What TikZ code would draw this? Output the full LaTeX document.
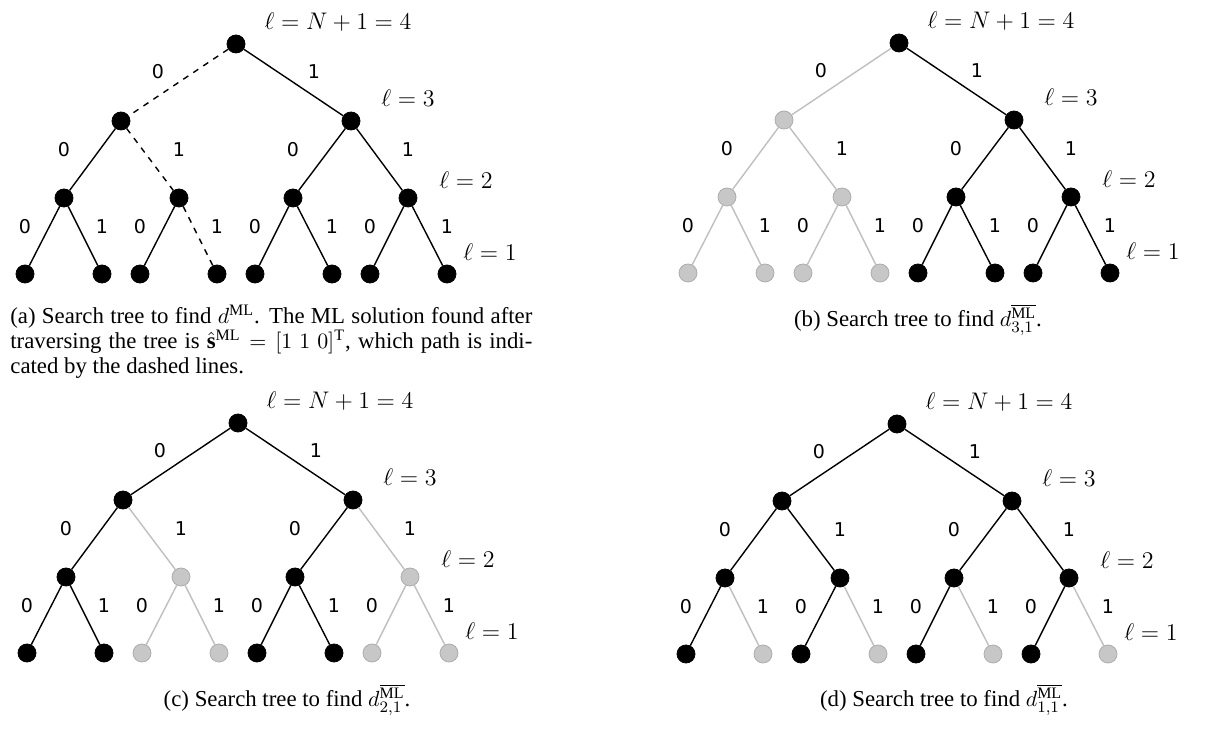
\documentclass[tikz,border=0pt]{standalone}
\usepackage{fontspec}
\setmainfont{Liberation Serif}
\newfontfamily\lblfont{DejaVu Sans}
\begin{document}
\begin{tikzpicture}[x=0.5pt,y=-0.5pt,
  nd/.style={circle,fill=black,draw=black,minimum size=9pt,inner sep=0pt},
  gnd/.style={fill=black!22,draw=black!32},
  ed/.style={line width=0.7pt},
  ge/.style={draw=black!25},
  de/.style={dashed},
  lbl/.style={font=\lblfont\fontsize{9.5}{11}\selectfont},
  ell/.style={font=\fontsize{12}{14}\selectfont},
  captxt/.style={font=\fontsize{11.4}{12.5}\selectfont}]
\useasboundingbox (0,0) rectangle (1206,731);
\newcommand\mytree[3]{%
 \node[nd,#1r/.try] (#1r) at (#2,#3) {};
 \node[nd,#1a/.try] (#1a) at ({#2-115},{#3+77}) {};
 \node[nd,#1b/.try] (#1b) at ({#2+115},{#3+77}) {};
 \node[nd,#1aa/.try] (#1aa) at ({#2-172},{#3+154}) {};
 \node[nd,#1ab/.try] (#1ab) at ({#2-57},{#3+154}) {};
 \node[nd,#1ba/.try] (#1ba) at ({#2+57},{#3+154}) {};
 \node[nd,#1bb/.try] (#1bb) at ({#2+172},{#3+154}) {};
 \foreach \n/\dx in {aaa/-211,aab/-134,aba/-96,abb/-19,baa/19,bab/96,bba/134,bbb/211}{
   \node[nd,#1\n/.try] (#1\n) at ({#2+\dx},{#3+230}) {};}
 \foreach \p/\c in {r/a,r/b,a/aa,a/ab,b/ba,b/bb,aa/aaa,aa/aab,ab/aba,ab/abb,ba/baa,ba/bab,bb/bba,bb/bbb}{
   \draw[ed,#1e\c/.try] (#1\p) -- (#1\c);}
 \node[lbl] at ({#2-78},{#3+28}) {0};
 \node[lbl] at ({#2+78},{#3+28}) {1};
 \foreach \dx/\t in {-172/0,-57/1,57/0,172/1}{\node[lbl] at ({#2+\dx},{#3+106}) {\t};}
 \foreach \dx/\t in {-211/0,-134/1,-96/0,-19/1,19/0,96/1,134/0,211/1}{\node[lbl] at ({#2+\dx},{#3+183}) {\t};}
 \node[ell] at ({#2+102},{#3-22}) {$\ell = N+1 = 4$};
 \node[ell] at ({#2+172},{#3+54}) {$\ell = 3$};
 \node[ell] at ({#2+230},{#3+136}) {$\ell = 2$};
 \node[ell] at ({#2+254},{#3+208}) {$\ell = 1$};
}
% (a)
\tikzset{Aea/.style={de},Aeab/.style={de},Aeabb/.style={de}}
\mytree{A}{236}{44}
% (b)
\tikzset{Ba/.style={gnd},Baa/.style={gnd},Bab/.style={gnd},Baaa/.style={gnd},Baab/.style={gnd},Baba/.style={gnd},Babb/.style={gnd},
 Bea/.style={ge},Beaa/.style={ge},Beab/.style={ge},Beaaa/.style={ge},Beaab/.style={ge},Beaba/.style={ge},Beabb/.style={ge}}
\mytree{B}{899}{43}
% (c)
\tikzset{Cab/.style={gnd},Caba/.style={gnd},Cabb/.style={gnd},Cbb/.style={gnd},Cbba/.style={gnd},Cbbb/.style={gnd},
 Ceab/.style={ge},Ceaba/.style={ge},Ceabb/.style={ge},Cebb/.style={ge},Cebba/.style={ge},Cebbb/.style={ge}}
\mytree{C}{238}{423}
% (d)
\tikzset{Daab/.style={gnd},Dabb/.style={gnd},Dbab/.style={gnd},Dbbb/.style={gnd},
 Deaab/.style={ge},Deabb/.style={ge},Debab/.style={ge},Debbb/.style={ge}}
\mytree{D}{897}{424}
% captions
\node[captxt,anchor=north west,text width=261pt,align=justify,inner sep=0pt] (capa) at (10,305)
 {(a) Search tree to find $d^{\mathrm{ML}}$. The ML solution found after traversing the tree is $\hat{\mathbf{s}}^{\mathrm{ML}}=[1\ 1\ 0]^{\mathrm{T}}$, which path is indicated by the dashed lines.};
\node[captxt] (capb) at (918,320) {(b) Search tree to find $d_{3,1}^{\overline{\mathrm{ML}}}$.};
\node[captxt] (capc) at (287,700) {(c) Search tree to find $d_{2,1}^{\overline{\mathrm{ML}}}$.};
\node[captxt] (capd) at (944,700) {(d) Search tree to find $d_{1,1}^{\overline{\mathrm{ML}}}$.};
\end{tikzpicture}
\end{document}
